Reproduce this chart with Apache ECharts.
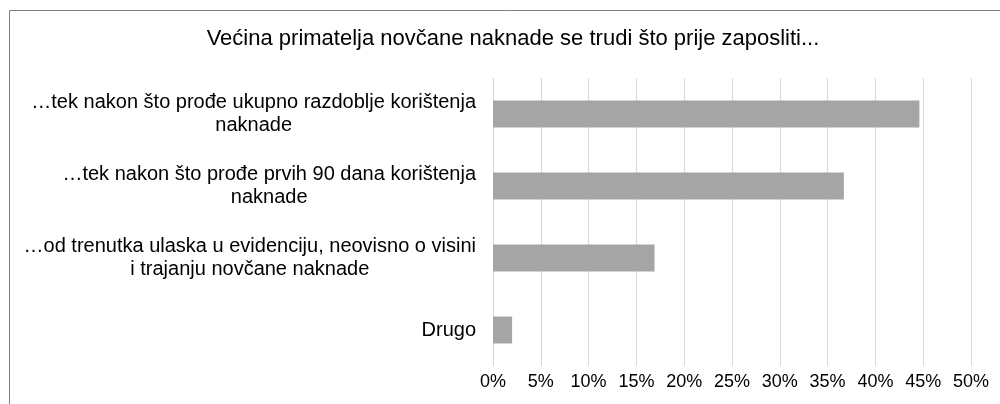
<!DOCTYPE html>
<html lang="hr">
<head>
    <meta charset="UTF-8">
    <title>naknada</title>
    <script src="https://cdn.jsdelivr.net/npm/echarts@6/dist/echarts.min.js"></script>
    <style>
        html, body {margin: 0; padding: 0; background: #fff;}
        #chart {width: 1000px; height: 404px;}
    </style>
</head>
<body>
<div id="chart"></div>
<script>
    // podaci
    let titleText = 'Većina primatelja novčane naknade se trudi što prije zaposliti...';
    let categories = [
        '…tek nakon što prođe ukupno razdoblje korištenja\nnaknade',
        '…tek nakon što prođe prvih 90 dana korištenja\nnaknade',
        '…od trenutka ulaska u evidenciju, neovisno o visini\ni trajanju novčane naknade',
        'Drugo'
    ];
    let values = [44.6, 36.7, 16.9, 2.0];
    let xTicks = {min: 0, max: 50, step: 5};

    let myChart = echarts.init(document.getElementById('chart'));
    let option = {
        backgroundColor: '#fff',
        animation: false,
        textStyle: {fontFamily: 'Liberation Sans, Arial, sans-serif'},
        title: {
            text: titleText,
            left: 508,
            textAlign: 'center',
            top: 23,
            textStyle: {fontSize: 22, fontWeight: 'normal', color: '#000'}
        },
        // okvir grafikona
        graphic: [{
            type: 'rect',
            shape: {x: 9.5, y: 10.5, width: 1010, height: 420},
            style: {fill: 'none', stroke: '#7f7f7f', lineWidth: 1},
            silent: true
        }],
        grid: {left: 493, right: 29, top: 78, bottom: 38},
        xAxis: {
            type: 'value',
            min: xTicks.min,
            max: xTicks.max,
            interval: xTicks.step,
            axisLine: {show: false},
            axisTick: {show: false},
            splitLine: {lineStyle: {color: '#d9d9d9', width: 1}},
            axisLabel: {
                formatter: '{value}%',
                fontSize: 18,
                color: '#000',
                margin: 7
            }
        },
        yAxis: {
            type: 'category',
            inverse: true,
            data: categories,
            axisLine: {show: false},
            axisTick: {show: false},
            axisLabel: {
                margin: 17,
                align: 'right',
                formatter: function (v) {
                    // svaki red centriran unutar bloka
                    return v.split('\n').map(s => '{c|' + s + '}').join('\n');
                },
                rich: {
                    c: {align: 'center', fontSize: 20, lineHeight: 23, color: '#000'}
                }
            }
        },
        series: [{
            type: 'bar',
            data: values,
            barCategoryGap: '62.5%',
            itemStyle: {color: '#a5a5a5'}
        }]
    };
    myChart.setOption(option);
</script>
</body>
</html>
